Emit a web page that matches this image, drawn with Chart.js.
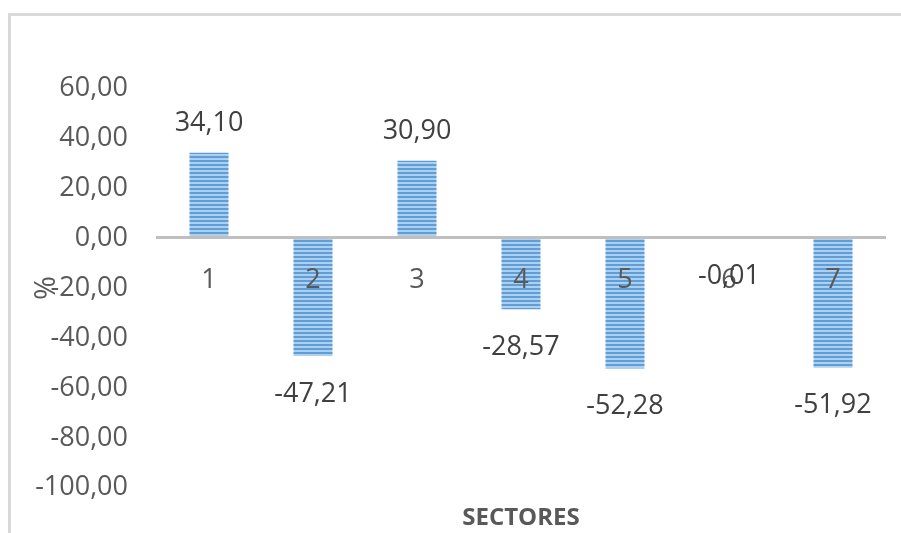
<!DOCTYPE html>
<html>
<head>
<meta charset="utf-8">
<script src="https://cdn.jsdelivr.net/npm/chart.js@4.4.1/dist/chart.umd.min.js"></script>
<style>
  html, body { margin: 0; padding: 0; background: #fff; }
  #wrap { position: relative; width: 901px; height: 533px; }
</style>
</head>
<body>
<div id="wrap"><canvas id="chart" width="901" height="533"></canvas></div>
<script>
const sectores = ['1', '2', '3', '4', '5', '6', '7'];
const valores = [34.10, -47.21, 30.90, -28.57, -52.28, -0.01, -51.92];
const yMin = -100;
const yMax = 60;
const yStep = 20;
const tituloX = 'SECTORES';
const tituloY = '%';

const FONT = "'Open Sans', sans-serif";
const fmt = v => v.toFixed(2).replace('.', ',');

// striped fill like the Excel pattern
function stripes() {
  const c = document.createElement('canvas');
  c.width = 4; c.height = 4;
  const g = c.getContext('2d');
  g.fillStyle = '#add0f0';
  g.fillRect(0, 0, 4, 4);
  g.fillStyle = '#5e9dd6';
  g.fillRect(0, 0, 4, 2);
  return g.createPattern(c, 'repeat');
}

const framePlugin = {
  id: 'frame',
  beforeDraw(chart) {
    const ctx = chart.ctx;
    ctx.save();
    ctx.fillStyle = '#fff';
    ctx.fillRect(0, 0, chart.width, chart.height);
    ctx.fillStyle = '#d9d9d9';
    ctx.fillRect(8, 13, chart.width - 8, 3);
    ctx.fillRect(8, 13, 3, chart.height - 13);
    ctx.restore();
  }
};

const labelsPlugin = {
  id: 'valueLabels',
  afterDraw(chart) {
    const ctx = chart.ctx;
    const meta = chart.getDatasetMeta(0);
    const area = chart.chartArea;
    ctx.save();
    ctx.font = '27px ' + FONT;
    ctx.fillStyle = '#404040';
    ctx.textAlign = 'center';
    ctx.textBaseline = 'middle';
    meta.data.forEach((bar, i) => {
      const v = valores[i];
      const y = v >= 0 ? bar.y - 29 : bar.y + 38;
      ctx.fillText(fmt(v), bar.x, y);
    });
    // axis titles
    ctx.fillStyle = '#595959';
    ctx.font = 'bold 24px ' + FONT;
    ctx.fillText(tituloX, (area.left + area.right) / 2, 518);
    ctx.translate(47, (area.top + area.bottom) / 2);
    ctx.rotate(-Math.PI / 2);
    ctx.font = '29px ' + FONT;
    ctx.fillText(tituloY, 0, 0);
    ctx.restore();
  }
};

new Chart(document.getElementById('chart'), {
  type: 'bar',
  data: {
    labels: sectores,
    datasets: [{
      data: valores,
      backgroundColor: stripes(),
      borderWidth: 0,
      barPercentage: 0.375,
      categoryPercentage: 1
    }]
  },
  options: {
    responsive: false,
    animation: false,
    layout: { padding: { left: 0, right: 16, top: 88, bottom: 45 } },
    plugins: {
      legend: { display: false },
      tooltip: { enabled: false }
    },
    scales: {
      x: {
        position: { y: 0 },
        grid: { display: false },
        border: { display: true, color: '#bfbfbf', width: 3, z: 1 },
        ticks: { z: 1, color: '#595959', font: { family: FONT, size: 27 }, padding: 18, maxRotation: 0 }
      },
      y: {
        min: yMin,
        max: yMax,
        grid: { display: false, drawTicks: false },
        border: { display: false },
        ticks: {
          stepSize: yStep,
          color: '#595959',
          font: { family: FONT, size: 27 },
          padding: 29,
          callback: v => fmt(v)
        },
        afterFit(scale) { scale.width = 157; }
      }
    }
  },
  plugins: [framePlugin, labelsPlugin]
});
</script>
</body>
</html>
